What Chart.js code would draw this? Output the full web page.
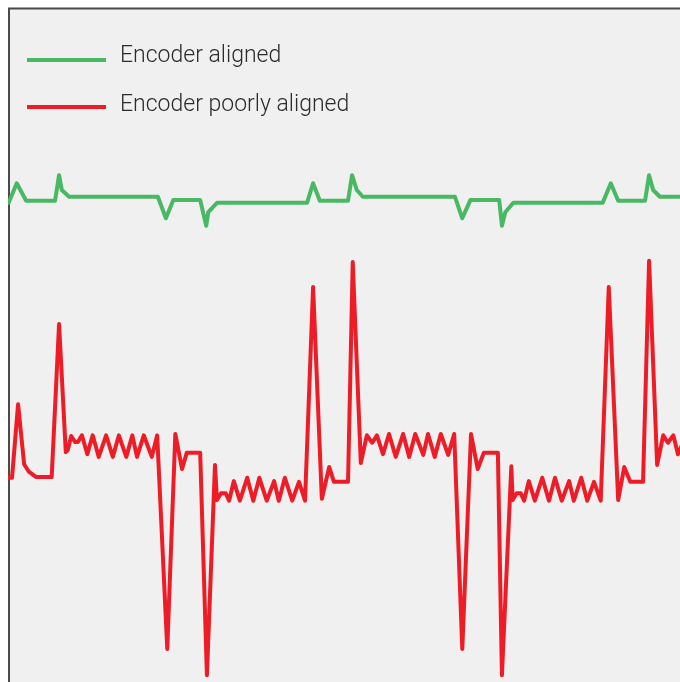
<!DOCTYPE html>
<html>
<head>
<meta charset="utf-8">
<script src="https://cdn.jsdelivr.net/npm/chart.js@4/dist/chart.umd.min.js"></script>
<style>
  html, body { margin: 0; padding: 0; background: #ffffff; }
  #wrap { width: 680px; height: 682px; position: relative; }
</style>
</head>
<body>
<div id="wrap"><canvas id="c" width="680" height="682"></canvas></div>
<script>
// Time axis (arbitrary units 0..100) and signal amplitude (arbitrary units 0..100)
const seriesLabels = ['Encoder aligned', 'Encoder poorly aligned'];

const alignedTime  = [0.1, 1.3, 2.7, 7.0, 7.6, 8.0, 9.1, 22.3, 23.5, 24.6, 28.6, 29.5, 29.8, 31.1,
                      44.5, 45.4, 46.4, 50.6, 51.2, 51.9, 52.8, 66.5, 67.6, 68.8, 73.1, 73.5, 74.0, 75.2,
                      88.5, 89.7, 90.8, 94.8, 95.4, 96.0, 97.0, 100.7];
const alignedValue = [71.1, 74.0, 71.4, 71.4, 75.2, 73.0, 72.0, 72.0, 68.8, 71.5, 71.5, 67.7, 69.7, 71.1,
                      71.1, 74.0, 71.4, 71.4, 75.2, 73.0, 72.0, 72.0, 68.8, 71.5, 71.5, 67.7, 69.7, 71.1,
                      71.1, 74.0, 71.4, 71.4, 75.2, 73.0, 72.0, 72.0];

const poorTime  = [0.1, 0.6, 1.5, 2.4, 3.1, 4.2, 6.5, 7.6, 8.6, 8.9, 9.4, 10.0, 10.4, 11.0, 11.8, 12.6, 13.5,
                   14.6, 15.6, 16.5, 17.6, 18.5, 19.2, 20.2, 21.4, 22.2, 23.7, 24.9, 25.9, 26.6, 28.6, 29.6,
                   30.8, 31.1, 31.7, 32.4, 32.9, 33.6, 34.5, 35.6, 36.5, 37.4, 38.5, 39.6, 40.3, 41.2, 42.3,
                   43.3, 44.2, 45.4, 46.7, 47.8, 48.5, 50.6, 51.3, 52.5, 53.4, 54.2, 54.9, 55.8, 56.7, 57.7,
                   58.8, 59.7, 60.6, 61.8, 62.5, 63.5, 64.4, 65.5, 66.4, 67.6, 68.9, 69.9, 70.8, 72.9, 73.5,
                   74.9, 75.1, 75.7, 76.3, 76.8, 77.5, 78.4, 79.5, 80.5, 81.4, 82.4, 83.5, 84.2, 85.3, 86.2,
                   87.2, 88.2, 89.4, 90.8, 91.7, 92.6, 94.5, 95.4, 96.6, 97.5, 98.2, 99.0, 99.7, 100.6];
const poorValue = [30.3, 30.3, 41.2, 32.3, 31.2, 30.4, 30.4, 53.1, 34.1, 34.4, 36.5, 35.6, 35.6, 36.6, 33.8, 36.6, 33.4,
                   36.6, 33.4, 36.6, 33.4, 36.6, 33.4, 36.6, 33.4, 36.6, 4.9, 36.8, 31.6, 34.0, 34.0, 1.0,
                   32.2, 27.0, 28.0, 28.0, 26.9, 29.8, 26.9, 30.3, 26.9, 30.3, 26.9, 29.8, 26.9, 30.3, 26.9,
                   29.7, 26.9, 58.6, 27.2, 31.9, 29.7, 29.7, 62.3, 32.5, 36.6, 35.5, 36.6, 33.8, 36.8, 33.4,
                   36.8, 33.4, 36.8, 33.7, 36.8, 33.4, 36.8, 33.7, 36.8, 4.9, 36.8, 31.6, 34.0, 34.0, 1.0,
                   32.0, 27.0, 28.0, 28.0, 26.9, 29.8, 26.9, 30.3, 26.9, 30.3, 26.9, 29.8, 26.9, 30.3, 26.9,
                   29.7, 26.9, 58.6, 27.0, 31.9, 29.7, 29.7, 62.5, 32.2, 36.6, 35.5, 36.6, 33.8, 35.9];

const colors = ['#48b862', '#ee1c26'];

function pts(xs, ys) { return xs.map((x, i) => ({ x: x, y: ys[i] })); }

const framePlugin = {
  id: 'frame',
  beforeDraw(chart) {
    const ctx = chart.ctx, a = chart.chartArea;
    ctx.save();
    ctx.fillStyle = '#ffffff';
    ctx.fillRect(0, 0, chart.width, chart.height);
    ctx.fillStyle = '#f0f0f0';
    ctx.fillRect(a.left, a.top, chart.width - a.left, chart.height - a.top);
    ctx.strokeStyle = '#4a4a4a';
    ctx.lineWidth = 2;
    ctx.beginPath();
    ctx.moveTo(a.left + 1, chart.height);
    ctx.lineTo(a.left + 1, a.top + 0.5);
    ctx.lineTo(chart.width, a.top + 0.5);
    ctx.stroke();
    ctx.restore();
  },
  afterDraw(chart) {
    const ctx = chart.ctx, a = chart.chartArea;
    ctx.save();
    chart.data.datasets.forEach((ds, i) => {
      const yLine = a.top + 52 + i * 47;
      ctx.strokeStyle = ds.borderColor;
      ctx.lineWidth = 4;
      ctx.lineCap = 'butt';
      ctx.beginPath();
      ctx.moveTo(a.left + 19, yLine);
      ctx.lineTo(a.left + 98, yLine);
      ctx.stroke();
      ctx.fillStyle = '#2b2b2b';
      ctx.font = '300 23px Roboto, "Liberation Sans", sans-serif';
      ctx.textBaseline = 'alphabetic';
      ctx.textAlign = 'left';
      ctx.fillText(ds.label, a.left + 112, a.top + 54 + i * 49);
    });
    ctx.restore();
  }
};

new Chart(document.getElementById('c'), {
  type: 'line',
  data: {
    datasets: [
      { label: seriesLabels[0], data: pts(alignedTime, alignedValue), borderColor: colors[0],
        borderWidth: 4, pointRadius: 0, tension: 0, borderJoinStyle: 'round', borderCapStyle: 'round', fill: false },
      { label: seriesLabels[1], data: pts(poorTime, poorValue), borderColor: colors[1],
        borderWidth: 4, pointRadius: 0, tension: 0, borderJoinStyle: 'round', borderCapStyle: 'round', fill: false }
    ]
  },
  options: {
    responsive: false,
    animation: false,
    events: [],
    layout: { padding: { left: 8, top: 8, right: 0, bottom: 0 }, autoPadding: false },
    scales: {
      x: { type: 'linear', min: 0, max: 100, display: false },
      y: { type: 'linear', min: 0, max: 100, display: false }
    },
    plugins: { legend: { display: false }, tooltip: { enabled: false } }
  },
  plugins: [framePlugin]
});
</script>
</body>
</html>
